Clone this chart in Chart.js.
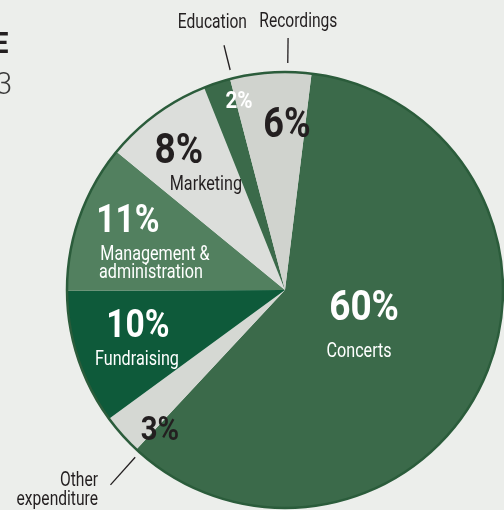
<!DOCTYPE html>
<html>
<head>
<meta charset="utf-8">
<style>
  html, body { margin: 0; padding: 0; background: #eceeeb; }
  #wrap { width: 504px; height: 510px; }
</style>
<script src="https://cdn.jsdelivr.net/npm/chart.js@4.4.1/dist/chart.umd.min.js"></script>
</head>
<body>
<div id="wrap"><canvas id="expenditureChart" width="504" height="510"></canvas></div>
<script>
// Data
const categories = ["Concerts", "Other expenditure", "Fundraising", "Management & administration", "Marketing", "Education", "Recordings"];
const shares = [60, 3, 10, 11, 8, 2, 6];
const insideNames = [["Concerts"], null, ["Fundraising"], ["Management &", "administration"], ["Marketing"], null, null];
const outsideNames = [null, ["Other", "expenditure"], null, null, null, ["Education"], ["Recordings"]];
const titleLines = ["EXPENDITURE", "2013"];

// Styles
const sliceColors = ["#3b6a4a", "#d5d8d3", "#0e5a3a", "#52805f", "#dcdedb", "#3b6a4a", "#d0d3ce"];
const darkText = "#231f20";

// label placement relative to each slice: r = fraction of radius, da = degrees from slice middle
const labelLayout = [
    { r: 0.388, da: -4.2, size: 43, color: "#fff", lines: [[-5, 37]] },
    { r: 0.896, da: -8.6, size: 34, color: darkText, lines: [] },
    { r: 0.708, da: 0.5, size: 39, color: "#fff", lines: [[-1, 28]] },
    { r: 0.768, da: 0.7, size: 39, color: "#fff", lines: [[27, 28], [23, 46]] },
    { r: 0.759, da: -3.7, size: 43, color: darkText, lines: [[27, 27]] },
    { r: 0.861, da: 4, size: 24, color: "#fff", lines: [] },
    { r: 0.702, da: 4.5, size: 42, color: darkText, lines: [] }
];
const outerLayout = {
    1: { r: 1.243, da: -4.75, align: "right", gap: 19, leader: [1.03, 1.2, -6.55] },
    5: { r: 1.247, da: 2.7, align: "center", gap: 19, leader: [1.04, 1.157, 4.2] },
    6: { r: 1.208, da: 6.7, align: "center", gap: 19, leader: [1.041, 1.156, 4.5] }
};

function drawText(ctx, text, x, y, font, color, align, sx) {
    ctx.save();
    ctx.font = font;
    ctx.fillStyle = color;
    ctx.textAlign = align;
    ctx.textBaseline = "alphabetic";
    ctx.translate(x, y);
    ctx.scale(sx, 1);
    ctx.fillText(text, 0, 0);
    ctx.restore();
}

function polar(arc, r, da) {
    const a = (arc.startAngle + arc.endAngle) / 2 + da * Math.PI / 180;
    return { x: arc.x + Math.cos(a) * r * arc.outerRadius, y: arc.y + Math.sin(a) * r * arc.outerRadius };
}

const pieLabels = {
    id: "pieLabels",
    afterDatasetsDraw(chart) {
        const ctx = chart.ctx;
        const arcs = chart.getDatasetMeta(0).data.map(a => a.getProps(["x", "y", "startAngle", "endAngle", "outerRadius"], true));

        // dark outline round the pie
        ctx.save();
        ctx.beginPath();
        ctx.arc(arcs[0].x, arcs[0].y, arcs[0].outerRadius, 0, Math.PI * 2);
        ctx.lineWidth = 2.5;
        ctx.strokeStyle = "#2b5c3b";
        ctx.stroke();
        ctx.restore();

        arcs.forEach((arc, i) => {
            const lay = labelLayout[i];
            const p = polar(arc, lay.r, lay.da);
            drawText(ctx, shares[i] + "%", p.x, p.y, "bold " + lay.size + "px Roboto", lay.color, "center", 0.86);
            if (insideNames[i]) {
                insideNames[i].forEach((line, k) => {
                    const off = lay.lines[k];
                    drawText(ctx, line, p.x + off[0], p.y + off[1], "21px Roboto", lay.color, "center", 0.77);
                });
            }
            const out = outerLayout[i];
            if (out && outsideNames[i]) {
                const q = polar(arc, out.r, out.da);
                outsideNames[i].forEach((line, k) => {
                    drawText(ctx, line, q.x, q.y + k * out.gap, "20px Roboto", darkText, out.align, 0.78);
                });
                const l0 = polar(arc, out.leader[0], out.leader[2]);
                const l1 = polar(arc, out.leader[1], out.leader[2]);
                ctx.save();
                ctx.beginPath();
                ctx.moveTo(l0.x, l0.y);
                ctx.lineTo(l1.x, l1.y);
                ctx.lineWidth = 1.3;
                ctx.strokeStyle = darkText;
                ctx.stroke();
                ctx.restore();
            }
        });

        // title, cut off at the left edge as in the reference
        drawText(ctx, titleLines[0], 8.5, 53, "bold 29px Roboto", darkText, "right", 0.9);
        drawText(ctx, titleLines[1], 12, 94, "300 32px Roboto", "#3a3a3a", "right", 0.95);
    }
};

const ctxPie = document.getElementById("expenditureChart").getContext("2d");
new Chart(ctxPie, {
    type: "pie",
    data: {
        labels: categories,
        datasets: [{
            data: shares,
            backgroundColor: sliceColors,
            borderWidth: 0
        }]
    },
    options: {
        responsive: false,
        animation: false,
        rotation: 7,
        layout: { padding: { left: 67, right: 1, top: 72, bottom: 2 } },
        plugins: {
            legend: { display: false },
            tooltip: { enabled: false }
        }
    },
    plugins: [pieLabels]
});
</script>
</body>
</html>
